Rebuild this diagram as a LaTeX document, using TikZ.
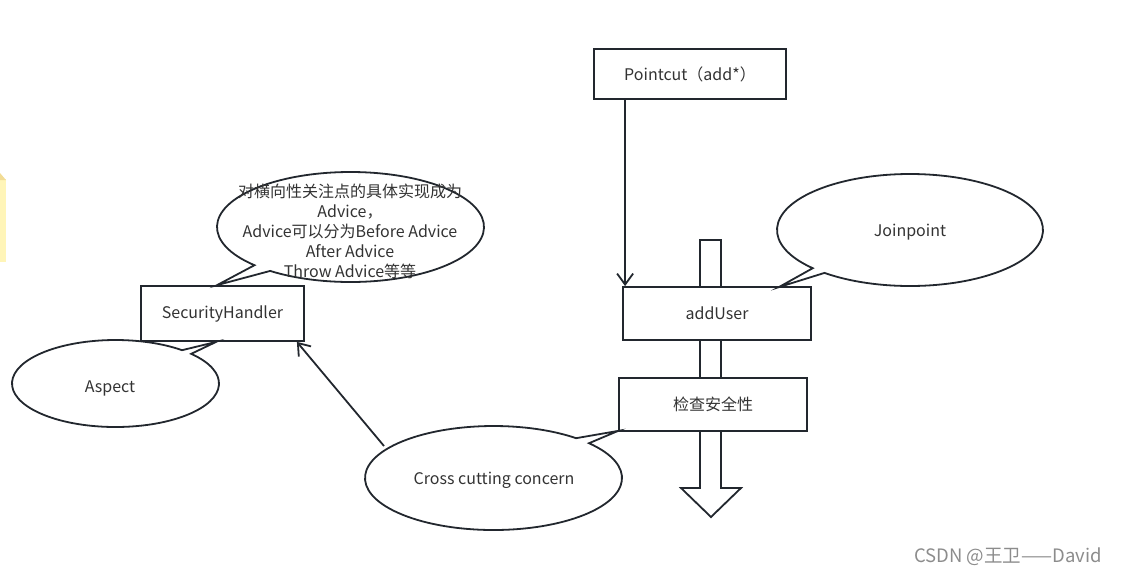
\documentclass[tikz,border=0pt]{standalone}
\usepackage{fontspec}
\setmainfont{Noto Sans CJK SC}
\usetikzlibrary{arrows.meta,calc}
\definecolor{ln}{HTML}{22272E}
\definecolor{tx}{HTML}{333333}
\definecolor{wm}{HTML}{8C8C8C}
\definecolor{pale}{HTML}{FFF5B8}
\definecolor{paledark}{HTML}{F2DC95}
\begin{document}
\begin{tikzpicture}[x=1pt,y=-1pt,
  every node/.style={text=tx,font=\fontsize{16}{20}\selectfont},
  box/.style={draw=ln,line width=1.8pt,fill=white,inner sep=0pt,anchor=center},
  callout/.style={draw=ln,line width=1.8pt,fill=white,line join=miter},
  conn/.style={draw=ln,line width=1.8pt,-{Straight Barb[length=11pt,width=16pt,line width=1.8pt]}},
  bigarrow/.style={draw=ln,line width=1.8pt,fill=white,line join=miter}]
\useasboundingbox (0,0) rectangle (1123,574);
% left edge yellow strip
\fill[pale] (0,179) rectangle (6,262);
\fill[paledark] (0,173) -- (6,180) -- (0,180) -- cycle;
% big hollow arrow
\draw[bigarrow] (700,240) -- (721,240) -- (721,488) -- (741,488) -- (711,517) -- (681,488) -- (700,488) -- cycle;
% boxes
\node[box,minimum width=192pt,minimum height=50pt] (pc) at (690,74) {Pointcut（add*）};
\node[box,minimum width=188pt,minimum height=53pt] (au) at (717,313.5) {addUser};
\node[box,minimum width=188pt,minimum height=53pt] (ck) at (713,404.5) {检查安全性};
\node[box,minimum width=163pt,minimum height=55pt] (sh) at (222.5,313.5) {SecurityHandler};
% callout centres and tips
\coordinate (jpc) at (910,230);
\coordinate (advc) at (350.5,227);
\coordinate (aspc) at (115.5,383.5);
\coordinate (ccc) at (493.5,478);
\coordinate (jptip) at ($(au.north east)+(-33,1)$);
\coordinate (advtip) at ($(sh.north west)+(77,0)$);
\coordinate (asptip) at ($(sh.south west)+(76,0)$);
\coordinate (cctip) at ($(ck.south west)+(0,-1)$);
% callouts
\draw[callout] ($(jpc)+(137:133 and 56)$) arc[start angle=137,end angle=490,x radius=133,y radius=56] -- (jptip) -- cycle;
\draw[callout] ($(advc)+(136:133.5 and 55)$) arc[start angle=136,end angle=487,x radius=133.5,y radius=55] -- (advtip) -- cycle;
\draw[callout] ($(aspc)+(-43:103.5 and 43.5)$) arc[start angle=-43,end angle=310,x radius=103.5,y radius=43.5] -- (asptip) -- cycle;
\draw[callout] ($(ccc)+(-42:128.5 and 52)$) arc[start angle=-42,end angle=310,x radius=128.5,y radius=52] -- (cctip) -- cycle;
% callout texts
\node (jp) at (910,232) {Joinpoint};
\node (asp) at (110,388) {Aspect};
\node (cc) at (494,480) {Cross cutting concern};
\node[align=center,inner sep=0pt] (adv) at (350,231) {对横向性关注点的具体实现成为\\Advice，\\Advice可以分为Before Advice\\After Advice\\Throw Advice等等};
% connectors
\coordinate (pcout) at ($(pc.south west)+(32,0)$);
\draw[conn] (pcout) -- (pcout |- au.north);
\coordinate (ccout) at (384,446);
\draw[conn] (ccout) -- ($(sh.south east)+(-8,0)$);
% watermark
\node[text=wm,font=\fontsize{18.5}{20}\selectfont] (wmk) at (1008,557) {CSDN @王卫——David};
\end{tikzpicture}
\end{document}
